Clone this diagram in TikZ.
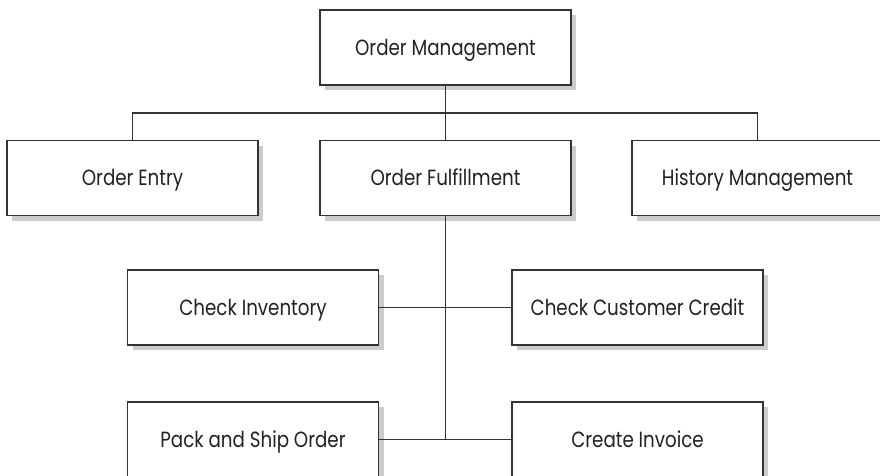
\documentclass[tikz,border=0pt]{standalone}
\usepackage{fontspec}
\setmainfont[FakeStretch=0.83]{Poppins}
\usetikzlibrary{shadows}
\definecolor{linec}{HTML}{333333}
\definecolor{textc}{HTML}{222222}
\definecolor{shadowc}{HTML}{CCCCCC}
\tikzset{
  box/.style={draw=linec, line width=1.3pt, fill=white, rectangle,
    minimum width=251pt, minimum height=75pt, inner sep=0pt,
    text height=15.5pt, text depth=0pt,
    text=textc, font=\fontsize{22}{26}\selectfont,
    drop shadow={shadow xshift=5pt, shadow yshift=-5pt, fill=shadowc, opacity=1}},
  link/.style={draw=linec, line width=1.3pt}
}
\begin{document}
\begin{tikzpicture}[x=1pt, y=-1pt]
\clip (0,0) rectangle (880,476);
\fill[white] (0,0) rectangle (880,476);
\node[box] (om) at (445.5,47.5) {Order Management};
\node[box] (oe) at (132.5,178) {Order Entry};
\node[box] (of) at (445.5,178) {Order Fulfillment};
\node[box] (hm) at (757.5,178) {History Management};
\node[box] (ci) at (253,307.5) {Check Inventory};
\node[box] (cc) at (637.5,307.5) {Check Customer Credit};
\node[box] (ps) at (253,439.5) {Pack and Ship Order};
\node[box] (iv) at (637.5,439.5) {Create Invoice};
\coordinate (bus) at (445.5,113);
\draw[link] (oe.north) |- (bus) -| (hm.north);
\draw[link] (om.south) -- (of.north);
\draw[link] (of.south) -- (of.south |- ps.east);
\draw[link] (ci.east) -- (cc.west);
\draw[link] (ps.east) -- (iv.west);
\end{tikzpicture}
\end{document}
